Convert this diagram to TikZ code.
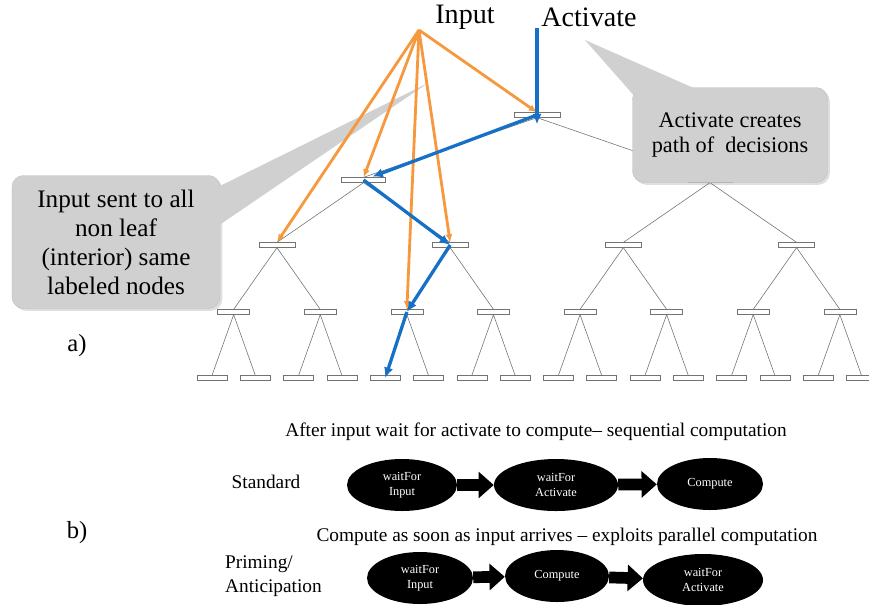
\documentclass[tikz,border=0pt]{standalone}
\usepackage{fontspec}
\setmainfont{Liberation Serif}
\usetikzlibrary{arrows.meta,shapes.geometric,shadows}
\definecolor{inputorange}{RGB}{246,152,62}
\definecolor{activeblue}{RGB}{22,112,200}
\definecolor{calloutgray}{RGB}{208,208,208}

\begin{document}
\begin{tikzpicture}[
    x=0.03cm, y=-0.03cm,
    treebox/.style={rectangle, draw=black!55, fill=white, line width=0.5pt, inner sep=0pt, minimum height=4pt},
    treeedge/.style={draw=black!55, line width=0.5pt},
    inputline/.style={draw=inputorange, line width=2.4pt, -{Latex[length=7pt,width=6pt]}},
    activeline/.style={draw=activeblue, line width=2.8pt, -{Latex[length=9pt,width=8pt]}},
    callout/.style={rectangle, rounded corners=10pt, fill=calloutgray, draw=black!25, align=center,
      drop shadow={opacity=0.25, shadow xshift=2pt, shadow yshift=-2pt}},
    statenode/.style={ellipse, fill=black, text=white, inner sep=0pt, minimum height=1.56cm, align=center,
      font=\fontsize{10.5}{12.5}\selectfont},
    blockarrow/.style={line width=10pt, -{Triangle[length=13pt,width=22pt]}},
    bigtext/.style={font=\fontsize{24}{28}\selectfont},
    midtext/.style={font=\fontsize{16.5}{20}\selectfont}
  ]
  \useasboundingbox (0,0) rectangle (869,604);

  % a) the tree
  \node[treebox, minimum width=1.38cm] (l0-1) at (537,115) {};
  \foreach \i in {1,2}
    \node[treebox, minimum width=1.32cm] (l1-\i) at ({212+43.3*(8*\i-4.5)},180) {};
  \foreach \i in {1,...,4}
    \node[treebox, minimum width=1.08cm] (l2-\i) at ({212+43.3*(4*\i-2.5)},245) {};
  \foreach \i in {1,...,8}
    \node[treebox, minimum width=0.96cm] (l3-\i) at ({212+43.3*(2*\i-1.5)},312) {};
  \foreach \i in {1,...,16}
    \node[treebox, minimum width=0.9cm] (l4-\i) at ({212+43.3*(\i-1)},378) {};

  \draw[treeedge] (l0-1.south) -- (l1-1.north) (l0-1.south) -- (l1-2.north);
  \foreach \i [evaluate=\i as \j using int(2*\i-1), evaluate=\i as \k using int(2*\i)] in {1,2}
    \draw[treeedge] (l1-\i.south) -- (l2-\j.north) (l1-\i.south) -- (l2-\k.north);
  \foreach \i [evaluate=\i as \j using int(2*\i-1), evaluate=\i as \k using int(2*\i)] in {1,...,4}
    \draw[treeedge] (l2-\i.south) -- (l3-\j.north) (l2-\i.south) -- (l3-\k.north);
  \foreach \i [evaluate=\i as \j using int(2*\i-1), evaluate=\i as \k using int(2*\i)] in {1,...,8}
    \draw[treeedge] (l3-\i.south) -- (l4-\j.north) (l3-\i.south) -- (l4-\k.north);

  % callouts
  \node[callout, minimum width=6.24cm, minimum height=3.99cm, font=\fontsize{21.5}{24.8}\selectfont]
    (callL) at (116,242) {Input sent to all\\non leaf\\(interior) same\\labeled nodes};
  \coordinate (tipL) at (428,83);
  \fill[calloutgray] ([xshift=-6pt,yshift=-12pt]callL.north east) -- (tipL)
    -- ([xshift=-6pt,yshift=-46pt]callL.north east) -- cycle;
  \node[callout, minimum width=5.85cm, minimum height=2.85cm, font=\fontsize{19}{21.5}\selectfont]
    (callR) at (730,135) {Activate creates\\path of \ decisions};
  \coordinate (tipR) at (585,40);
  \fill[calloutgray] ([xshift=4pt,yshift=-10pt]callR.north west) -- (tipR)
    -- ([xshift=60pt,yshift=-4pt]callR.north west) -- cycle;

  \node[bigtext] (inlabel) at (465,17) {Input};
  \node[bigtext] (actlabel) at (589,17) {Activate};
  \coordinate (in) at (419,30);
  \coordinate (act) at (537,28);

  \foreach \t in {l0-1,l1-1,l2-1,l2-2,l3-3}
    \draw[inputline] (in) -- (\t.north);

  \draw[activeline] (act) -- ([yshift=-8pt]l0-1.center);
  \draw[activeline, shorten >=8pt] (l0-1.center) -- (l1-1.center);
  \draw[activeline] (l1-1.center) -- (l2-2.center);
  \draw[activeline] (l2-2.center) -- (l3-3.center);
  \draw[activeline] (l3-3.center) -- (l4-5.center);

  \node[font=\fontsize{21}{24}\selectfont] (alabel) at (77,346) {a)};
  \node[font=\fontsize{21}{24}\selectfont] (blabel) at (77,533) {b)};

  % b) the two state sequences
  \node[midtext] (seqtext) at (536,432) {After input wait for activate to compute-- sequential computation};
  \node[midtext] (stdlabel) at (266,482) {Standard};
  \node[statenode, minimum width=3.3cm] (s1) at (402,485) {waitFor\\Input};
  \node[statenode, minimum width=3.72cm] (s2) at (556,485) {waitFor\\Activate};
  \node[statenode, minimum width=3.18cm] (s3) at (710,484) {Compute};
  \draw[blockarrow] (s1) -- (s2);
  \draw[blockarrow] (s2) -- (s3);

  \node[midtext] (partext) at (567,537) {Compute as soon as input arrives -- exploits parallel computation};
  \node[midtext, anchor=west, align=left] (prilabel) at (221,576) {Priming/\\Anticipation};
  \node[statenode, minimum width=3.18cm] (p1) at (420,578) {waitFor\\Input};
  \node[statenode, minimum width=3.12cm] (p2) at (557,576) {Compute};
  \node[statenode, minimum width=3.6cm] (p3) at (703,580) {waitFor\\Activate};
  \draw[blockarrow] (p1) -- (p2);
  \draw[blockarrow] (p2) -- (p3);
\end{tikzpicture}
\end{document}
